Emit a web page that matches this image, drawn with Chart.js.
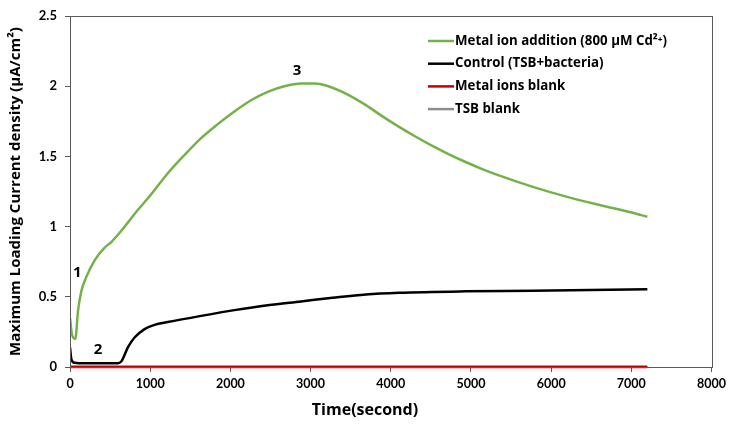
<!DOCTYPE html>
<html><head><meta charset="utf-8">
<script src="https://cdn.jsdelivr.net/npm/chart.js@4/dist/chart.umd.min.js"></script>
<style>html,body{margin:0;padding:0;background:#fff}</style>
</head><body>
<canvas id="c" width="730" height="430" style="width:730px;height:430px"></canvas>
<script>
// ---- data ----
const seriesLabels = ["Metal ion addition (800 \u03bcM Cd\u00b2\u207a)", "Control (TSB+bacteria)", "Metal ions blank", "TSB blank"];
const seriesColors = ["#74B249", "#000000", "#C00000", "#8C8C8C"];

const metalTime = [0, 25, 66, 100, 141, 203, 307, 432, 515, 640, 805, 1013, 1220, 1428, 1635, 1843, 2050, 2258, 2465, 2673, 2880, 3050, 3193, 3483, 3690, 3897, 4104, 4312, 4519, 4726, 4934, 5141, 5348, 5763, 6178, 6592, 7006, 7200];
const metalValues = [0.35, 0.23, 0.20, 0.40, 0.54, 0.64, 0.76, 0.85, 0.89, 0.97, 1.09, 1.23, 1.38, 1.51, 1.63, 1.73, 1.82, 1.90, 1.96, 2.00, 2.02, 2.02, 2.005, 1.935, 1.865, 1.785, 1.71, 1.64, 1.575, 1.515, 1.46, 1.41, 1.365, 1.285, 1.215, 1.155, 1.10, 1.07];

const controlTime = [0, 17, 58, 183, 400, 598, 640, 722, 805, 930, 1054, 1220, 1635, 2050, 2465, 2880, 3275, 3690, 4104, 4934, 5763, 7200];
const controlValues = [0.14, 0.055, 0.03, 0.026, 0.026, 0.026, 0.04, 0.14, 0.21, 0.27, 0.30, 0.32, 0.364, 0.405, 0.44, 0.467, 0.493, 0.517, 0.529, 0.539, 0.543, 0.553];

const metalBlankTime = [0, 7200];
const metalBlankValues = [0, 0];
const tsbBlankTime = [0, 7200];
const tsbBlankValues = [0.004, 0.004];

const xTicks = [0, 1000, 2000, 3000, 4000, 5000, 6000, 7000, 8000];
const yTicks = [0, 0.5, 1, 1.5, 2, 2.5];

const annotLabels = ["1", "2", "3"];
const annotTime = [90, 350, 2830];
const annotValues = [0.67, 0.125, 2.11];

const toPts = (xs, ys) => xs.map((x, i) => ({x: x, y: ys[i]}));

const FONT = "'Open Sans', Lato, sans-serif";
const TFONT = "Lato, 'Open Sans', sans-serif";
const AX = "#595959";

const boxPlugin = {
  id: 'box',
  afterDraw(chart) {
    const ctx = chart.ctx, a = chart.chartArea;
    ctx.save();
    ctx.strokeStyle = AX; ctx.lineWidth = 1;
    ctx.strokeRect(Math.round(a.left) + 0.5, Math.round(a.top) + 0.5, Math.round(a.right - a.left), Math.round(a.bottom - a.top));
    // annotations
    const xs = chart.scales.x, ys = chart.scales.y;
    ctx.fillStyle = "#000";
    ctx.font = "bold 15px " + FONT;
    ctx.textAlign = "center"; ctx.textBaseline = "middle";
    annotLabels.forEach((t, i) => ctx.fillText(t, xs.getPixelForValue(annotTime[i]), ys.getPixelForValue(annotValues[i])));
    // legend
    ctx.font = "bold 13.3px " + FONT;
    ctx.textAlign = "left";
    chart.data.datasets.forEach((d, i) => {
      const y = 41 + i * 22.7;
      ctx.strokeStyle = d.borderColor; ctx.lineWidth = 2.5;
      ctx.beginPath(); ctx.moveTo(428, y); ctx.lineTo(454, y); ctx.stroke();
      ctx.fillStyle = "#000";
      ctx.fillText(d.label, 455, y);
    });
    // x title
    ctx.font = "bold 16px " + FONT;
    ctx.textAlign = "center";
    ctx.fillText("Time(second)", 365, 410);
    ctx.restore();
  }
};

new Chart(document.getElementById('c'), {
  type: 'line',
  data: {
    datasets: [
      {label: seriesLabels[0], data: toPts(metalTime, metalValues), borderColor: seriesColors[0], borderWidth: 2.5, pointRadius: 0, cubicInterpolationMode: 'monotone', fill: false},
      {label: seriesLabels[1], data: toPts(controlTime, controlValues), borderColor: seriesColors[1], borderWidth: 2.5, pointRadius: 0, cubicInterpolationMode: 'monotone', fill: false},
      {label: seriesLabels[2], data: toPts(metalBlankTime, metalBlankValues), borderColor: seriesColors[2], borderWidth: 2.5, pointRadius: 0, fill: false, clip: false},
      {label: seriesLabels[3], data: toPts(tsbBlankTime, tsbBlankValues), borderColor: seriesColors[3], borderWidth: 2, pointRadius: 0, fill: false, clip: false}
    ]
  },
  options: {
    responsive: false,
    animation: false,
    layout: {padding: {top: 16, right: 17, left: 0, bottom: 0}},
    plugins: {legend: {display: false}, tooltip: {enabled: false}},
    scales: {
      x: {
        type: 'linear', min: 0, max: 8000,
        afterBuildTicks: s => { s.ticks = xTicks.map(v => ({value: v})); },
        afterFit: s => { s.height = 63; },
        grid: {drawOnChartArea: false, drawTicks: true, tickLength: 5, color: AX},
        border: {display: true, color: AX},
        ticks: {color: "#000", font: {family: TFONT, weight: 'bold', size: 12.5}, padding: 4, maxRotation: 0, callback: v => String(v)}
      },
      y: {
        type: 'linear', min: 0, max: 2.5,
        afterBuildTicks: s => { s.ticks = yTicks.map(v => ({value: v})); },
        afterFit: s => { s.width = 70; },
        grid: {drawOnChartArea: false, drawTicks: true, tickLength: 5, color: AX},
        border: {display: true, color: AX},
        ticks: {color: "#000", font: {family: TFONT, weight: 'bold', size: 13}, padding: 8, callback: v => String(v)},
        title: {display: true, text: "Maximum Loading Current density (\u03bcA/cm\u00b2)", color: "#000", font: {family: FONT, weight: 'bold', size: 15}, padding: {top: 7, bottom: 0}}
      }
    }
  },
  plugins: [boxPlugin]
});
</script>
</body></html>
